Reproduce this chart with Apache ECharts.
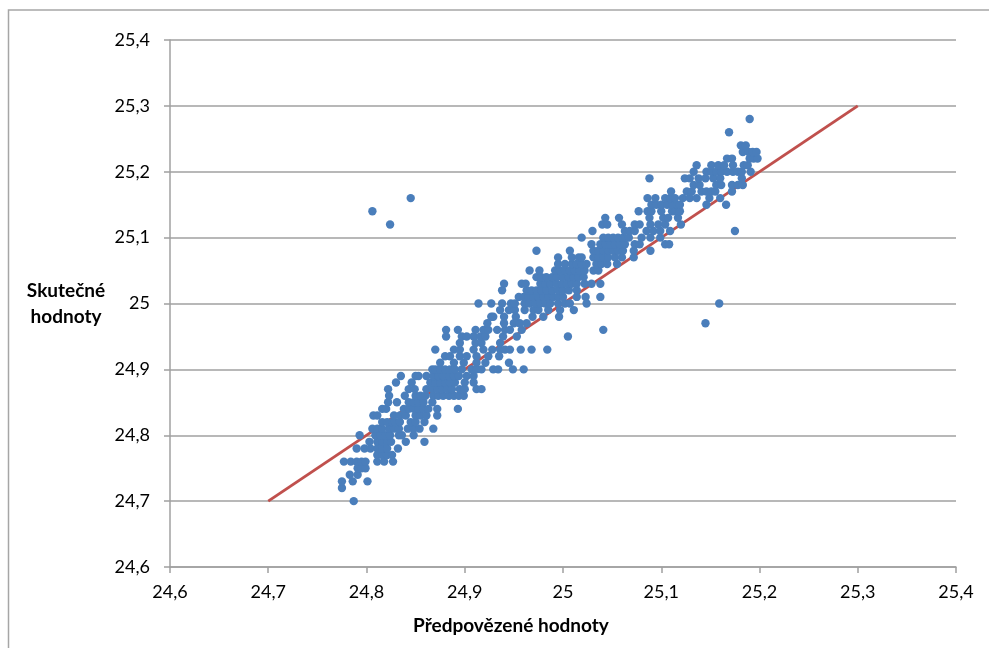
<!DOCTYPE html>
<html><head><meta charset="utf-8">
<style>html,body{margin:0;padding:0;background:#fff}#c{width:989px;height:648px}</style>
<script src="https://cdn.jsdelivr.net/npm/echarts@6/dist/echarts.min.js"></script>
</head><body><div id="c"></div>
<script>
const axisTicks = [24.6,24.7,24.8,24.9,25.0,25.1,25.2,25.3,25.4];
const xTitle = 'Předpovězené hodnoty';
const yTitle = 'Skutečné\nhodnoty';
const lineX = [24.7, 25.3];
const lineY = [24.7, 25.3];
const actualLevels = [24.70,24.72,24.73,24.74,24.75,24.76,24.77,24.78,24.79,24.80,24.81,24.82,24.83,24.84,24.85,24.86,24.87,24.88,24.89,24.90,24.91,24.92,24.93,24.94,24.95,24.96,24.97,24.98,24.99,25.00,25.01,25.02,25.03,25.04,25.05,25.06,25.07,25.08,25.09,25.10,25.11,25.12,25.13,25.14,25.15,25.16,25.17,25.18,25.19,25.20,25.21,25.22,25.23,25.24,25.26,25.28];
const predictedByLevel = [
[24.787],
[24.775],
[24.775,24.786,24.801],
[24.783,24.791],
[24.791,24.795,24.799],
[24.777,24.784,24.790,24.795,24.799,24.811,24.818,24.827],
[24.811,24.816,24.821,24.826],
[24.790,24.798,24.804,24.811,24.816,24.821,24.832],
[24.803,24.811,24.816,24.821,24.825,24.840,24.859],
[24.793,24.809,24.814,24.819,24.824,24.833,24.836,24.848],
[24.806,24.811,24.816,24.823,24.828,24.833,24.842,24.848,24.854,24.868],
[24.816,24.821,24.826,24.829,24.834,24.845,24.850,24.859],
[24.807,24.811,24.828,24.834,24.840,24.850,24.855,24.861,24.872],
[24.816,24.820,24.838,24.843,24.848,24.853,24.858,24.863,24.872,24.893],
[24.822,24.831,24.843,24.848,24.853,24.858,24.867],
[24.823,24.839,24.850,24.855,24.860,24.868,24.873,24.878,24.884,24.889,24.894,24.899],
[24.822,24.843,24.849,24.861,24.867,24.872,24.877,24.882,24.887,24.895,24.900,24.912,24.917],
[24.830,24.846,24.865,24.870,24.875,24.880,24.885,24.890,24.900,24.909],
[24.835,24.850,24.853,24.861,24.868,24.873,24.878,24.884,24.889,24.894,24.902,24.909],
[24.867,24.870,24.875,24.880,24.885,24.890,24.897,24.907,24.912,24.917,24.929,24.934,24.949,24.960],
[24.875,24.889,24.899,24.912,24.921,24.945],
[24.880,24.885,24.895,24.902,24.912,24.924,24.935],
[24.870,24.889,24.895,24.909,24.919,24.928,24.936,24.941,24.946,24.957,24.968,24.984],
[24.895,24.911,24.917,24.936],
[24.881,24.897,24.902,24.909,24.916,24.921,24.939,24.953,25.005],
[24.881,24.893,24.911,24.919,24.924,24.933,24.941,24.946,24.958,25.041],
[24.923,24.940,24.950,24.956,24.963,25.145],
[24.927,24.929,24.940,24.952,24.969,24.980,24.996],
[24.936,24.945,24.951,24.961,24.970,24.975,24.985,24.997,25.011],
[24.914,24.927,24.938,24.947,24.951,24.961,24.966,24.972,24.977,24.982,24.987,24.995,25.002,25.007,25.024,25.159],
[24.955,24.960,24.965,24.970,24.975,24.980,24.985,24.990,24.995,25.000,25.014,25.023,25.038],
[24.938,24.963,24.968,24.973,24.978,24.983,24.989,24.995,25.000,25.006,25.014],
[24.940,24.958,24.962,24.977,24.982,24.987,24.993,24.999,25.004,25.009,25.014,25.022,25.029,25.038],
[24.973,24.978,24.983,24.989,24.994,25.000,25.006,25.011,25.016,25.021],
[24.966,24.976,24.992,24.997,25.002,25.007,25.012,25.017,25.022,25.031,25.036],
[24.995,25.002,25.009,25.014,25.019,25.024,25.034,25.039,25.045,25.055],
[24.995,25.009,25.016,25.019,25.031,25.036,25.041,25.046,25.053,25.060,25.072],
[24.973,25.007,25.031,25.036,25.041,25.046,25.051,25.056,25.061,25.072,25.089],
[25.029,25.038,25.043,25.048,25.053,25.058,25.063,25.073,25.078,25.104,25.108],
[25.019,25.041,25.046,25.051,25.056,25.061,25.067,25.080,25.089,25.099],
[25.030,25.063,25.068,25.073,25.085,25.092,25.099,25.109,25.175],
[24.824,25.040,25.045,25.060,25.073,25.078,25.089,25.097,25.104,25.120],
[25.043,25.057,25.088,25.102,25.107,25.117],
[24.806,25.077,25.086,25.090,25.100,25.111,25.114,25.119],
[25.090,25.095,25.100,25.106,25.111,25.116,25.119,25.146,25.166],
[24.845,25.086,25.094,25.104,25.109,25.114,25.122,25.129,25.136,25.149,25.160],
[25.110,25.126,25.131,25.141,25.146,25.151,25.155,25.172],
[25.133,25.139,25.156,25.161,25.172,25.178,25.183],
[25.088,25.124,25.129,25.138,25.145,25.153,25.160,25.182],
[25.133,25.146,25.151,25.156,25.161,25.167,25.173,25.178,25.182,25.191],
[25.136,25.151,25.158,25.164,25.173,25.184,25.188],
[25.167,25.172,25.190,25.194,25.198],
[25.183,25.189,25.193,25.197],
[25.181,25.186],
[25.169],
[25.190]
];
const points = [];
actualLevels.forEach((a,i)=>predictedByLevel[i].forEach(p=>points.push([p,a])));
const fmt = v => String(+v.toFixed(1)).replace('.',',');
const font = 'Lato';
const axisGrey = '#a0a0a0';
const chart = echarts.init(document.getElementById('c'),null,{renderer:'canvas'});
chart.setOption({
  animation:false,
  backgroundColor:'#fff',
  grid:{left:170,right:33,top:40,bottom:81,containLabel:false},
  graphic:[{type:'polyline',shape:{points:[[8.5,648],[8.5,10],[989,10]]},style:{fill:'none',stroke:'#a6a6a6',lineWidth:1.5},silent:true,z:-1}],
  xAxis:{type:'value',min:24.6,max:25.4,interval:0.1,
    name:xTitle,nameLocation:'middle',nameGap:49,
    nameTextStyle:{fontFamily:font,fontSize:19,fontWeight:'bold',color:'#000',padding:[0,104,0,0]},
    axisLine:{show:true,onZero:false,lineStyle:{color:axisGrey,width:1.5}},
    axisTick:{show:true,length:6,lineStyle:{color:axisGrey,width:1.5}},
    axisLabel:{fontFamily:font,fontSize:18,color:'#000',margin:16,formatter:fmt},
    splitLine:{show:false}},
  yAxis:{type:'value',min:24.6,max:25.4,interval:0.1,
    name:yTitle,nameLocation:'middle',nameGap:104,nameRotate:0,
    nameTextStyle:{fontFamily:font,fontSize:19,fontWeight:'bold',color:'#000',align:'center',lineHeight:26,padding:[3,0,0,0]},
    axisLine:{show:true,onZero:false,lineStyle:{color:axisGrey,width:1.5}},
    axisTick:{show:true,length:6,lineStyle:{color:axisGrey,width:1.5}},
    axisLabel:{fontFamily:font,fontSize:18,color:'#000',margin:20,formatter:fmt},
    splitLine:{show:true,lineStyle:{color:axisGrey,width:1.5}}},
  series:[
    {type:'line',data:lineX.map((x,i)=>[x,lineY[i]]),showSymbol:false,symbol:'none',z:2,
     lineStyle:{color:'#C0504D',width:3},silent:true},
    {type:'scatter',data:points,symbol:'circle',symbolSize:8.4,z:3,
     itemStyle:{color:'#4A7EBB',opacity:1},silent:true}
  ]
});
</script></body></html>
